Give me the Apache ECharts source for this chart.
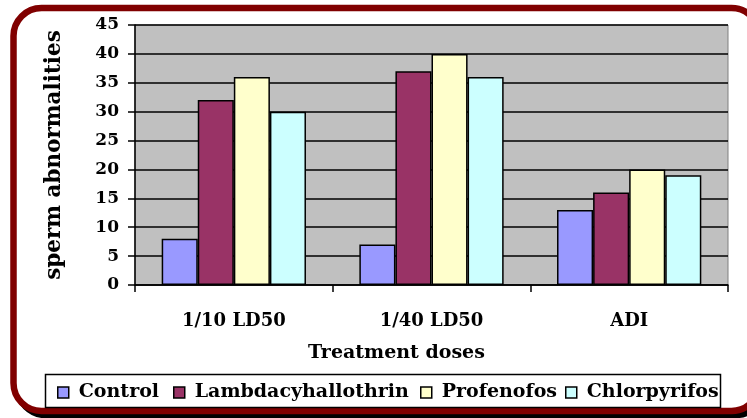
<!DOCTYPE html>
<html>
<head>
<meta charset="utf-8">
<script src="https://cdn.jsdelivr.net/npm/echarts@6/dist/echarts.min.js"></script>
<style>
  html, body { margin: 0; padding: 0; background: #fff; overflow: hidden; }
  #chart { width: 747px; height: 418px; }
</style>
</head>
<body>
<div id="chart"></div>
<script>
// data
const categories = ['1/10 LD50', '1/40 LD50', 'ADI'];
const seriesNames = ['Control', 'Lambdacyhallothrin', 'Profenofos', 'Chlorpyrifos'];
const control = [8, 7, 13];
const lambdacyhallothrin = [32, 37, 16];
const profenofos = [36, 40, 20];
const chlorpyrifos = [30, 36, 19];
const yTicks = [0, 5, 10, 15, 20, 25, 30, 35, 40, 45];

const colors = ['#9999ff', '#993366', '#ffffcc', '#ccffff'];
const values = [control, lambdacyhallothrin, profenofos, chlorpyrifos];
const font = 'DejaVu Serif';
const legendLeft = [57, 173, 420, 565];

const chart = echarts.init(document.getElementById('chart'));

// frame round the whole slide, black shadow drawn first
const frame = { x: 13.5, y: 8, width: 746, height: 403, r: 28 };

const option = {
  animation: false,
  color: colors,
  textStyle: { fontFamily: font },
  graphic: [
    {
      type: 'rect',
      z: -20,
      shape: Object.assign({}, frame, { x: frame.x + 4, y: frame.y + 4 }),
      style: { fill: null, stroke: '#000', lineWidth: 6.5 }
    },
    {
      type: 'rect',
      z: -10,
      shape: frame,
      style: { fill: '#fff', stroke: '#800000', lineWidth: 6.5 }
    },
    {
      type: 'rect',
      z: 1,
      shape: { x: 45.5, y: 374.5, width: 675, height: 33 },
      style: { fill: '#fff', stroke: '#000', lineWidth: 1.5 }
    }
  ],
  legend: seriesNames.map((name, i) => ({
    data: [name],
    left: legendLeft[i],
    top: 383,
    padding: 0,
    z: 5,
    icon: 'rect',
    itemWidth: 11,
    itemHeight: 11,
    itemGap: 0,
    itemStyle: { borderColor: '#000', borderWidth: 1.5 },
    textStyle: {
      fontFamily: font,
      fontWeight: 'bold',
      fontSize: 19,
      color: '#000',
      padding: [0, 0, 0, 5]
    }
  })),
  grid: {
    left: 135,
    right: 19,
    top: 25,
    bottom: 133,
    show: true,
    backgroundColor: '#c0c0c0',
    borderColor: '#808080',
    borderWidth: 1
  },
  xAxis: {
    type: 'category',
    data: categories,
    name: 'Treatment doses',
    nameLocation: 'middle',
    nameGap: 59,
    nameTextStyle: {
      fontFamily: font,
      fontWeight: 'bold',
      fontSize: 19,
      color: '#000',
      padding: [0, 70, 0, 0]
    },
    axisLine: { lineStyle: { color: '#000', width: 1.5 } },
    axisTick: { show: true, length: 7, lineStyle: { color: '#000', width: 1.5 } },
    axisLabel: {
      margin: 27,
      fontFamily: font,
      fontWeight: 'bold',
      fontSize: 18,
      color: '#000'
    },
    splitLine: { show: false }
  },
  yAxis: {
    type: 'value',
    min: yTicks[0],
    max: yTicks[yTicks.length - 1],
    interval: yTicks[1] - yTicks[0],
    name: 'sperm abnormalities',
    nameLocation: 'middle',
    nameRotate: 90,
    nameGap: 70,
    nameTextStyle: {
      fontFamily: font,
      fontWeight: 'bold',
      fontSize: 21.5,
      color: '#000'
    },
    axisLine: { show: true, lineStyle: { color: '#000', width: 1.5 } },
    axisTick: { show: true, length: 7, lineStyle: { color: '#000', width: 1.5 } },
    axisLabel: {
      margin: 16,
      fontFamily: font,
      fontWeight: 'bold',
      fontSize: 17,
      color: '#000'
    },
    splitLine: { lineStyle: { color: '#000', width: 1.5 } }
  },
  series: seriesNames.map((name, i) => ({
    name: name,
    type: 'bar',
    data: values[i],
    barGap: 0,
    barCategoryGap: '27%',
    itemStyle: { borderColor: '#000', borderWidth: 1.5 }
  }))
};

chart.setOption(option);
</script>
</body>
</html>
